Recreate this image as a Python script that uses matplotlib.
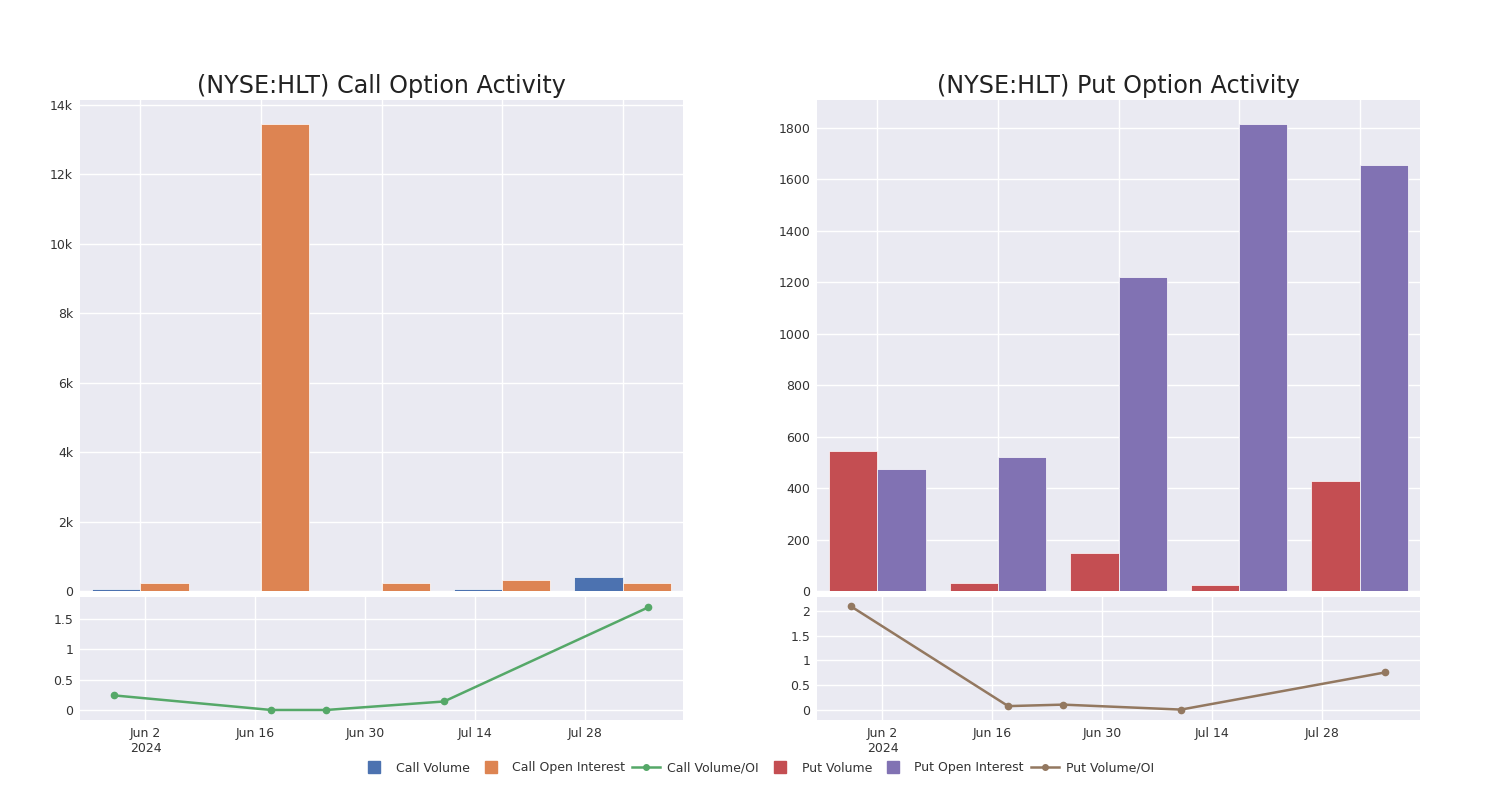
import matplotlib
matplotlib.use("Agg")
import matplotlib.pyplot as plt
import matplotlib.dates as mdates
from matplotlib.lines import Line2D
import numpy as np
import pandas as pd

# data
expiries = ["2024-05-29", "2024-06-18", "2024-06-25", "2024-07-10", "2024-08-05"]
call_volume = [60, 10, 0, 45, 390]
call_oi = [240, 13450, 230, 320, 230]
call_ratio = [0.24, 0.0, 0.0, 0.14, 1.69]
put_volume = [543, 33, 146, 22, 427]
put_oi = [473, 520, 1221, 1814, 1658]
put_ratio = [2.09, 0.08, 0.11, 0.01, 0.76]

tick_dates = ["2024-06-02", "2024-06-16", "2024-06-30", "2024-07-14", "2024-07-28"]
tick_labels = ["Jun 2\n2024", "Jun 16", "Jun 30", "Jul 14", "Jul 28"]

BG = "#EAEAF2"
C_BLUE, C_ORANGE, C_GREEN = "#4C72B0", "#DD8452", "#55A868"
C_RED, C_PURPLE, C_BROWN = "#C44E52", "#8172B3", "#937860"

plt.rcParams['font.family'] = ['DejaVu Sans']

W, H = 1500, 800
fig = plt.figure(figsize=(15, 8), dpi=100)


def px_axes(x0, y0, x1, y1):
    return fig.add_axes([x0 / W, 1 - y1 / H, (x1 - x0) / W, (y1 - y0) / H])


def style(ax):
    ax.set_facecolor(BG)
    for s in ax.spines.values():
        s.set_visible(False)
    ax.grid(True, color="white", linewidth=1)
    ax.set_axisbelow(True)
    ax.tick_params(length=0, labelsize=9, pad=5)
    for lbl in ax.get_yticklabels() + ax.get_xticklabels():
        lbl.set_color("#333333")


def kfmt(v, pos):
    if v == 0:
        return "0"
    return f"{int(v / 1000)}k"


def bar_panel(x0, vol, oi, c1, c2, ymax, yticks, fmt, title):
    ax = px_axes(x0, 100, x0 + 603, 591)
    xs = np.arange(len(vol))
    ax.bar(xs - 0.2, vol, width=0.4, color=c1, edgecolor="white", linewidth=0.5)
    ax.bar(xs + 0.2, oi, width=0.4, color=c2, edgecolor="white", linewidth=0.5)
    ax.set_xlim(-0.5, len(vol) - 0.5)
    ax.set_ylim(0, ymax)
    ax.set_xticks(xs)
    ax.set_xticklabels([])
    ax.set_yticks(yticks)
    if fmt:
        ax.yaxis.set_major_formatter(plt.FuncFormatter(fmt))
    style(ax)
    ax.set_title(title, fontsize=17.2, color="#222222", pad=5)
    return ax


def line_panel(x0, ratio, color, ylo, yhi, yticks, ylabels):
    ax = px_axes(x0, 597, x0 + 603, 720)
    d = pd.to_datetime(expiries)
    ax.plot(d, ratio, color=color, linewidth=1.8, marker="o", markersize=4.5)
    ax.set_xlim(pd.Timestamp("2024-05-24 16:00"), pd.Timestamp("2024-08-09 10:00"))
    ax.set_ylim(ylo, yhi)
    ax.set_yticks(yticks)
    ax.set_yticklabels(ylabels)
    ax.set_xticks(pd.to_datetime(tick_dates))
    ax.set_xticklabels(tick_labels)
    style(ax)
    return ax


bar_panel(80, call_volume, call_oi, C_BLUE, C_ORANGE, 14140,
          [0, 2000, 4000, 6000, 8000, 10000, 12000, 14000], kfmt,
          "(NYSE:HLT) Call Option Activity")
bar_panel(817, put_volume, put_oi, C_RED, C_PURPLE, 1909,
          [0, 200, 400, 600, 800, 1000, 1200, 1400, 1600, 1800], None,
          "(NYSE:HLT) Put Option Activity")

line_panel(80, call_ratio, C_GREEN, -0.165, 1.86,
           [0, 0.5, 1, 1.5], ["0", "0.5", "1", "1.5"])
line_panel(817, put_ratio, C_BROWN, -0.2, 2.28,
           [0, 0.5, 1, 1.5, 2], ["0", "0.5", "1", "1.5", "2"])

handles = [
    Line2D([], [], linestyle="none", marker="s", markersize=8, color=C_BLUE),
    Line2D([], [], linestyle="none", marker="s", markersize=8, color=C_ORANGE),
    Line2D([], [], color=C_GREEN, marker="o", markersize=4, linewidth=1.8),
    Line2D([], [], linestyle="none", marker="s", markersize=8, color=C_RED),
    Line2D([], [], linestyle="none", marker="s", markersize=8, color=C_PURPLE),
    Line2D([], [], color=C_BROWN, marker="o", markersize=4, linewidth=1.8),
]
names = ["Call Volume", "Call Open Interest", "Call Volume/OI",
         "Put Volume", "Put Open Interest", "Put Volume/OI"]
leg = fig.legend(handles, names, loc="center", bbox_to_anchor=(0.505, 0.04),
                 ncol=6, frameon=False, fontsize=9, handlelength=2.2,
                 columnspacing=0.6, handletextpad=0.6)
for t in leg.get_texts():
    t.set_color("#333333")

fig.savefig("out.png", dpi=100, facecolor="white")
